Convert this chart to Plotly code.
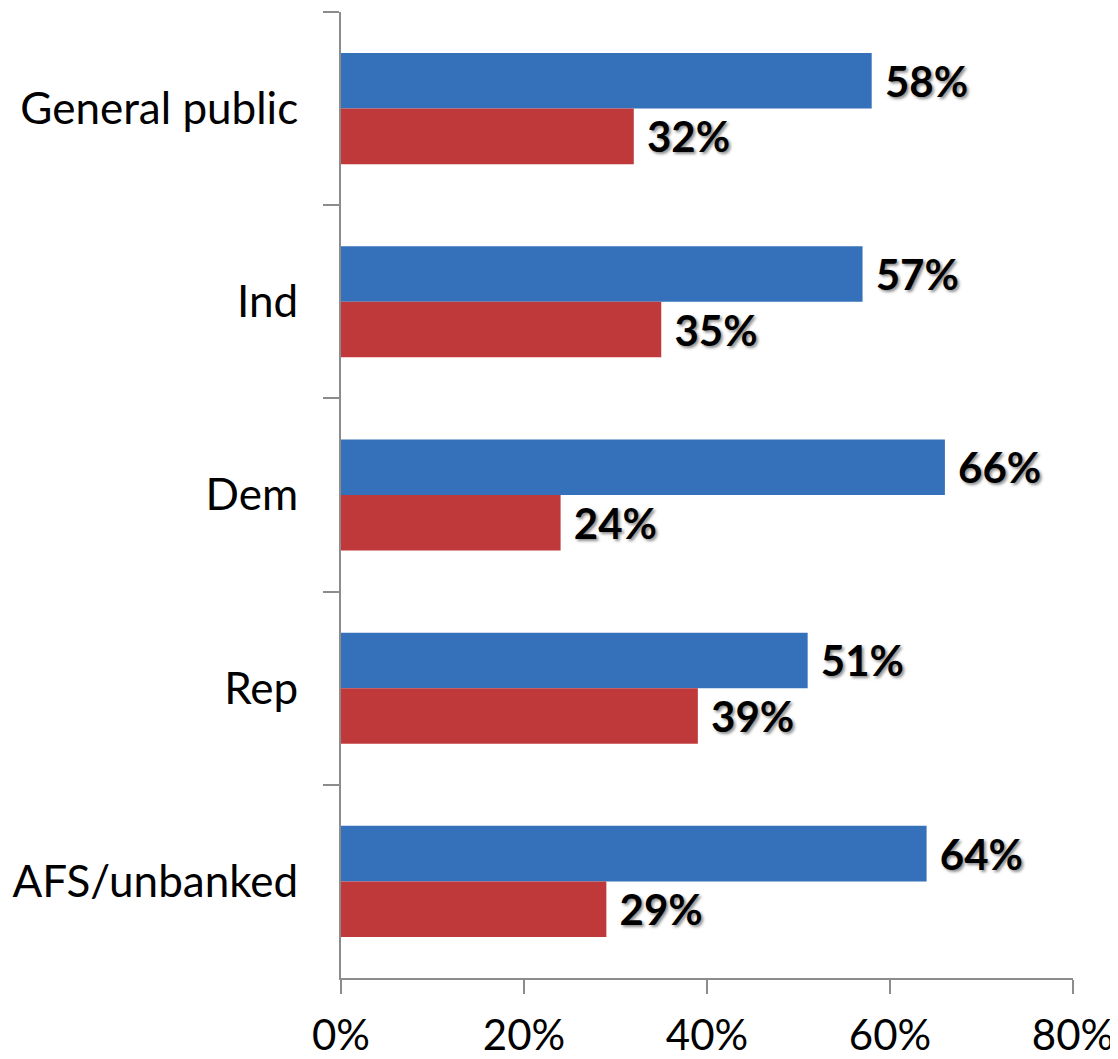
import plotly.graph_objects as go

categories = ["General public", "Ind", "Dem", "Rep", "AFS/unbanked"]
blue_values = [0.58, 0.57, 0.66, 0.51, 0.64]
red_values = [0.32, 0.35, 0.24, 0.39, 0.29]
x_ticks = [0, 0.2, 0.4, 0.6, 0.8]
x_tick_labels = ["0%", "20%", "40%", "60%", "80%"]

FONT = "Lato"
label_font = dict(family=FONT, size=42, color="black", weight="bold",
                  shadow="2px 2px 3px rgba(0,0,0,0.45)")

fig = go.Figure()
fig.add_trace(go.Bar(
    y=categories, x=blue_values, orientation="h",
    marker=dict(color="#3570ba", line=dict(width=0)),
    text=[f"{round(v*100)}%" for v in blue_values],
    texttemplate=" %{text}", textposition="outside",
    textfont=label_font, cliponaxis=False, name="blue",
))
fig.add_trace(go.Bar(
    y=categories, x=red_values, orientation="h",
    marker=dict(color="#c0393a", line=dict(width=0)),
    text=[f"{round(v*100)}%" for v in red_values],
    texttemplate=" %{text}", textposition="outside",
    textfont=label_font, cliponaxis=False, name="red",
))

# page body has an 8px default margin; compensate so the plot lands where the reference has it
fig.update_layout(
    width=1110, height=1051,
    margin=dict(l=333, r=45, t=4, b=81, autoexpand=False),
    paper_bgcolor="white", plot_bgcolor="white",
    barmode="group", bargap=0.425, bargroupgap=0,
    showlegend=False,
    font=dict(family=FONT, size=42, color="black"),
)
fig.update_xaxes(
    range=[0, 0.8], tickvals=x_ticks, ticktext=x_tick_labels,
    showgrid=False, zeroline=False, automargin=False,
    showline=True, linecolor="#8c8c8c", linewidth=2,
    ticks="outside", ticklen=14, tickwidth=2, tickcolor="#8c8c8c",
    tickfont=dict(family=FONT, size=42, color="black"),
    ticklabelstandoff=6,
)
fig.update_yaxes(
    autorange="reversed", tickson="boundaries", automargin=False,
    showgrid=False, zeroline=False,
    showline=True, linecolor="#8c8c8c", linewidth=2,
    ticks="outside", ticklen=16, tickwidth=2, tickcolor="#8c8c8c",
    tickfont=dict(family=FONT, size=44, color="black"),
    ticklabelstandoff=32,
)

fig.write_html("out.html")
